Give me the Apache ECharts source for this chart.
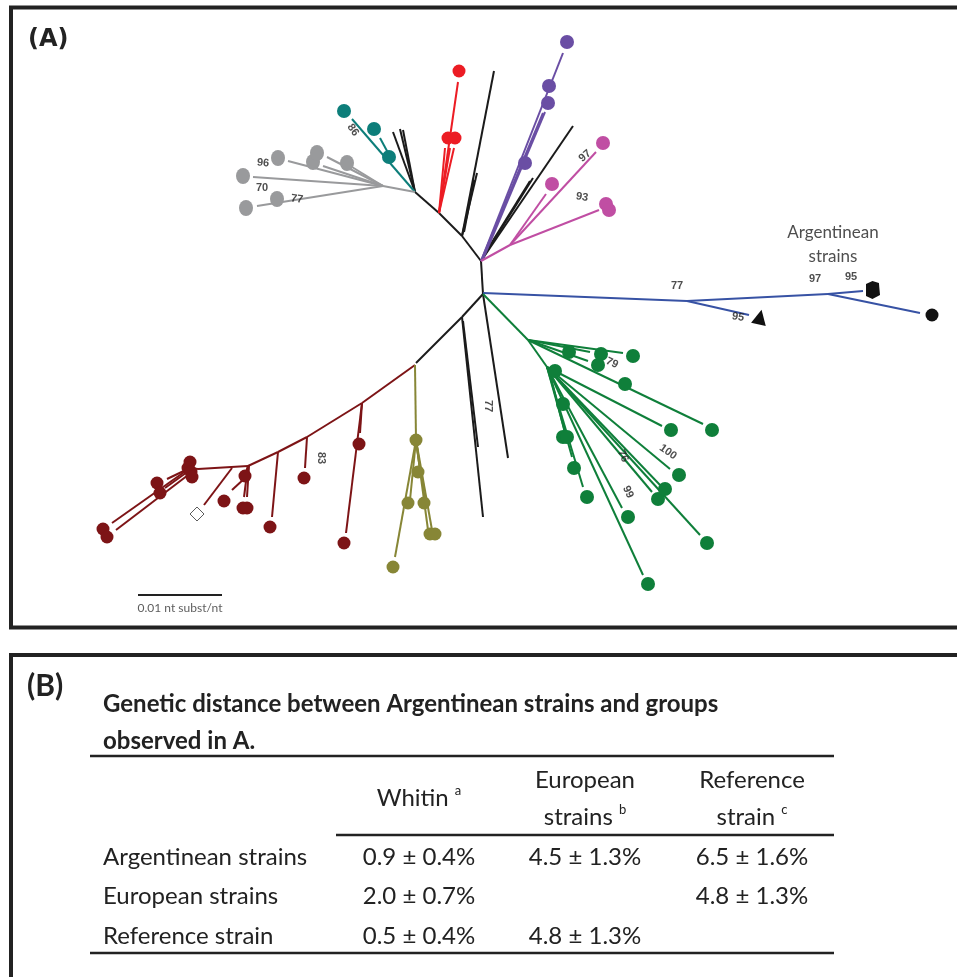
<!DOCTYPE html>
<html>
<head>
<meta charset="utf-8">
<script src="https://cdn.jsdelivr.net/npm/echarts@6/dist/echarts.min.js"></script>
<style>
html,body{margin:0;padding:0;background:#fff;}
#chart{width:957px;height:977px;}
</style>
</head>
<body>
<div id="chart"></div>
<script>
// ---------- Tree data (branch endpoints in tree layout units) ----------
const blackBranches = [
  [481,261,483,294],[481,261,462,236],[462,236,439,213],[439,213,415,192],
  [462,236,494,71],[462,236,477,173],[464,232,474,180],
  [415,192,393,132],[415,192,400,129],[415,192,403,130],
  [481,261,573,126],[481,261,533,178],[484,255,530,181],
  [483,294,462,317],[462,317,416,363],[462,317,483,517],[463,321,478,447],
  [483,294,508,458]
];
const redBranches = [[439,213,458,82],[439,213,445,148],[439,213,450,148],[439,213,454,148]];
const redTips = [[459,71],[448,138],[455,138]];
const tealBranches = [[415,192,352,119],[393,162,380,138]];
const tealTips = [[344,111],[374,129],[389,157]];
const grayBranches = [
  [415,192,383,186],[383,186,288,161],[383,186,323,166],[383,186,327,157],
  [383,186,352,167],[383,186,253,177],[383,186,257,206]
];
const grayTips = [[278,158],[313,162],[317,153],[347,163],[243,176],[277,199],[246,208]];
const purpleBranches = [[481,261,563,53],[481,261,543,113],[483,259,545,112]];
const purpleTips = [[567,42],[549,86],[548,103],[525,163]];
const pinkBranches = [[481,261,510,245],[510,245,599,210],[510,245,546,194],[510,245,596,152]];
const pinkTips = [[552,184],[603,143],[606,204],[609,210]];
const blueBranches = [[483,293,687,301],[687,301,749,315],[687,301,828,294],[828,294,863,291],[828,294,920,313]];
const argTriangle = [[760,317]];
const argBlob = [[873,290]];
const argDot = [[932,315]];
const greenBranches = [
  [483,294,528,340],[528,340,623,353],[528,340,590,352],[528,340,588,361],
  [528,340,703,424],[528,340,547,367],[547,367,662,426],[547,367,670,469],
  [547,367,700,535],[547,367,652,492],[547,367,660,485],[547,367,643,575],
  [547,367,622,508],[547,367,572,457],[547,367,583,487],[549,370,566,437]
];
const greenTips = [
  [633,356],[569,352],[601,354],[598,365],[712,430],[625,384],[555,371],
  [671,430],[679,475],[707,543],[658,499],[665,489],[648,584],[628,517],
  [563,404],[563,437],[567,437],[574,468],[587,497]
];
const darkRedBranches = [
  [415,365,362,403],[362,403,307,437],[307,437,278,452],[278,452,248,466],
  [248,466,198,469],[198,469,190,468],
  [362,403,346,533],[362,403,360,433],[307,437,305,468],[278,452,272,517],
  [248,466,245,475],[248,466,244,497],[249,466,247,497],[245,478,232,490],
  [232,468,204,505],[190,468,167,479],[190,470,165,488],[190,468,112,523],[192,472,116,530]
];
const darkRedTips = [
  [344,543],[359,444],[304,478],[270,527],[245,476],[243,508],[247,508],[224,501],
  [190,462],[188,468],[191,472],[192,477],[157,483],[160,493],[103,529],[107,537]
];
const refDiamond = [[197,514]];
const oliveBranches = [
  [415,365,416,440],[416,440,395,557],[416,440,428,530],[416,440,432,530],
  [416,440,410,500],[416,440,425,500],[416,440,420,470]
];
const oliveTips = [[416,440],[418,472],[408,503],[424,503],[430,534],[435,534],[393,567]];

// bootstrap support values
const bootstrapText = ['96','70','77','86','97','93','77','97','95','95','79','100','76','99','77','83'];
const bootstrapAt = [[263,163],[262,188],[297,199],[353,130],[585,156],[582,197],[677,286],[815,279],[851,277],[738,317],[612,363],[668,452],[623,456],[628,492],[488,406],[321,458]];
const bootstrapAngle = [-5,0,-8,-55,40,-10,0,0,0,-10,-25,-35,-65,-65,-90,-90];

const groupLabel = ['Argentinean', 'strains'];
const groupLabelAt = [833,245];
const scaleBar = [[138,595],[222,595]];
const scaleText = '0.01 nt subst/nt';

// ---------- Table data ----------
const tableTitle = ['Genetic distance between Argentinean strains and groups', 'observed in A.'];
const colHeads = [['Whitin'], ['European','strains'], ['Reference','strain']];
const colSup = ['a','b','c'];
const rowNames = ['Argentinean strains','European strains','Reference strain'];
const cellValues = [
  ['0.9 ± 0.4%','4.5 ± 1.3%','6.5 ± 1.6%'],
  ['2.0 ± 0.7%','','4.8 ± 1.3%'],
  ['0.5 ± 0.4%','4.8 ± 1.3%','']
];

// ---------- Build ----------
const chart = echarts.init(document.getElementById('chart'), null, {renderer:'canvas'});

function branchSeries(arr, color){
  return {type:'lines', coordinateSystem:'cartesian2d', z:2, silent:true,
    lineStyle:{color:color, width:2, opacity:1},
    data: arr.map(b => ({coords:[[b[0],b[1]],[b[2],b[3]]]}))};
}
function tipSeries(arr, color, size, symbol, extra){
  return Object.assign({type:'scatter', z:3, silent:true, symbol: symbol||'circle', symbolSize:size,
    itemStyle:{color:color, opacity:1}, data: arr}, extra||{});
}

const C = {black:'#1b1b1b', red:'#ec1c24', teal:'#0d7e7a', gray:'#999a9c', purple:'#6a4ea4',
  pink:'#c04ea3', blue:'#3752a4', green:'#0f7f3a', darkred:'#7d1416', olive:'#878636'};

const series = [
  branchSeries(blackBranches, C.black),
  branchSeries(redBranches, C.red),
  branchSeries(tealBranches, C.teal),
  branchSeries(grayBranches, C.gray),
  branchSeries(purpleBranches, C.purple),
  branchSeries(pinkBranches, C.pink),
  branchSeries(blueBranches, C.blue),
  branchSeries(greenBranches, C.green),
  branchSeries(darkRedBranches, C.darkred),
  branchSeries(oliveBranches, C.olive),
  branchSeries([[scaleBar[0][0],scaleBar[0][1],scaleBar[1][0],scaleBar[1][1]]], '#222'),
  tipSeries(redTips, C.red, 13),
  tipSeries(tealTips, C.teal, 14),
  tipSeries(grayTips, C.gray, [14,16]),
  tipSeries(purpleTips, C.purple, 14),
  tipSeries(pinkTips, C.pink, 14),
  tipSeries(greenTips, C.green, 14),
  tipSeries(darkRedTips, C.darkred, 13),
  tipSeries(oliveTips, C.olive, 13),
  tipSeries(argTriangle, '#111', 15, 'triangle', {symbolRotate:-12}),
  tipSeries(argBlob, '#111', [14,18], 'path://M1,3 L7,0 L13,2 L14,14 L7,18 L1,15 Z'),
  tipSeries(argDot, '#111', 13),
  tipSeries(refDiamond, '#fff', 14, 'diamond', {itemStyle:{color:'#fff', borderColor:'#333', borderWidth:1}}),
  {type:'scatter', z:4, silent:true, symbolSize:0,
    data: bootstrapText.map((t,i)=>({value:bootstrapAt[i], name:t,
      label:{rotate:bootstrapAngle[i]}})),
    label:{show:true, position:'inside', formatter:p=>p.name, color:'#222',
      fontFamily:'Liberation Sans, Arial', fontWeight:'bold', fontSize:11}},
  {type:'scatter', z:4, silent:true, symbolSize:0,
    data:[{value:groupLabelAt, name:groupLabel.join('\n')}],
    label:{show:true, position:'inside', formatter:p=>p.name, color:'#222',
      fontFamily:'Lato', fontSize:17, lineHeight:24}},
  {type:'scatter', z:4, silent:true, symbolSize:0,
    data:[{value:[(scaleBar[0][0]+scaleBar[1][0])/2, scaleBar[0][1]+13], name:scaleText}],
    label:{show:true, position:'inside', formatter:p=>p.name, color:'#333',
      fontFamily:'Lato', fontSize:12}}
];

// table graphics
const G = [];
G.push({type:'rect', shape:{x:11, y:7.5, width:960, height:620}, style:{fill:'none', stroke:'#222', lineWidth:4}, z:10});
G.push({type:'rect', shape:{x:11, y:655, width:960, height:340}, style:{fill:'none', stroke:'#222', lineWidth:4}, z:10});
G.push({type:'text', x:28, y:40, style:{text:'(A)', font:'bold 24px "DejaVu Sans"', fill:'#222', textVerticalAlign:'middle'}, z:10});
G.push({type:'text', x:27, y:686, style:{text:'(B)', font:'bold 30px Lato', fill:'#222', textVerticalAlign:'middle'}, z:10});
tableTitle.forEach((t,i)=>G.push({type:'text', x:103, y:704+i*37,
  style:{text:t, font:'bold 24px Lato', fill:'#222', textVerticalAlign:'middle'}, z:10}));
const colX = [419, 585, 752];
const rowY = [857, 896, 936];
G.push({type:'line', shape:{x1:90,y1:756,x2:834,y2:756}, style:{stroke:'#222', lineWidth:2.5}, z:10});
G.push({type:'line', shape:{x1:336,y1:835,x2:834,y2:835}, style:{stroke:'#222', lineWidth:2.5}, z:10});
G.push({type:'line', shape:{x1:90,y1:953,x2:834,y2:953}, style:{stroke:'#222', lineWidth:2.5}, z:10});
colHeads.forEach((h,j)=>{
  const lines = h.length===1 ? [798] : [780, 817];
  h.forEach((w,k)=>{
    const last = k===h.length-1;
    G.push({type:'text', x:colX[j], y:lines[k], z:10,
      style:{text: last ? '{m|'+w+' }{s|'+colSup[j]+'}' : '{m|'+w+'}',
        textAlign:'center', textVerticalAlign:'middle', fill:'#222',
        rich:{m:{fontFamily:'Lato', fontSize:24, color:'#222', lineHeight:28},
              s:{fontFamily:'Lato', fontSize:13, color:'#222', lineHeight:28, verticalAlign:'top', padding:[0,0,10,0]}}}});
  });
});
rowNames.forEach((r,i)=>{
  G.push({type:'text', x:103, y:rowY[i], z:10,
    style:{text:r, font:'24px Lato', fill:'#222', textVerticalAlign:'middle'}});
  cellValues[i].forEach((v,j)=>{
    if(!v) return;
    G.push({type:'text', x:colX[j], y:rowY[i], z:10,
      style:{text:v, font:'24px Lato', fill:'#222', textAlign:'center', textVerticalAlign:'middle'}});
  });
});

chart.setOption({
  animation:false,
  backgroundColor:'#fff',
  grid:{left:0, right:0, top:0, bottom:0},
  xAxis:{type:'value', min:0, max:957, show:false},
  yAxis:{type:'value', min:0, max:977, inverse:true, show:false},
  series: series,
  graphic: G
});
</script>
</body>
</html>
